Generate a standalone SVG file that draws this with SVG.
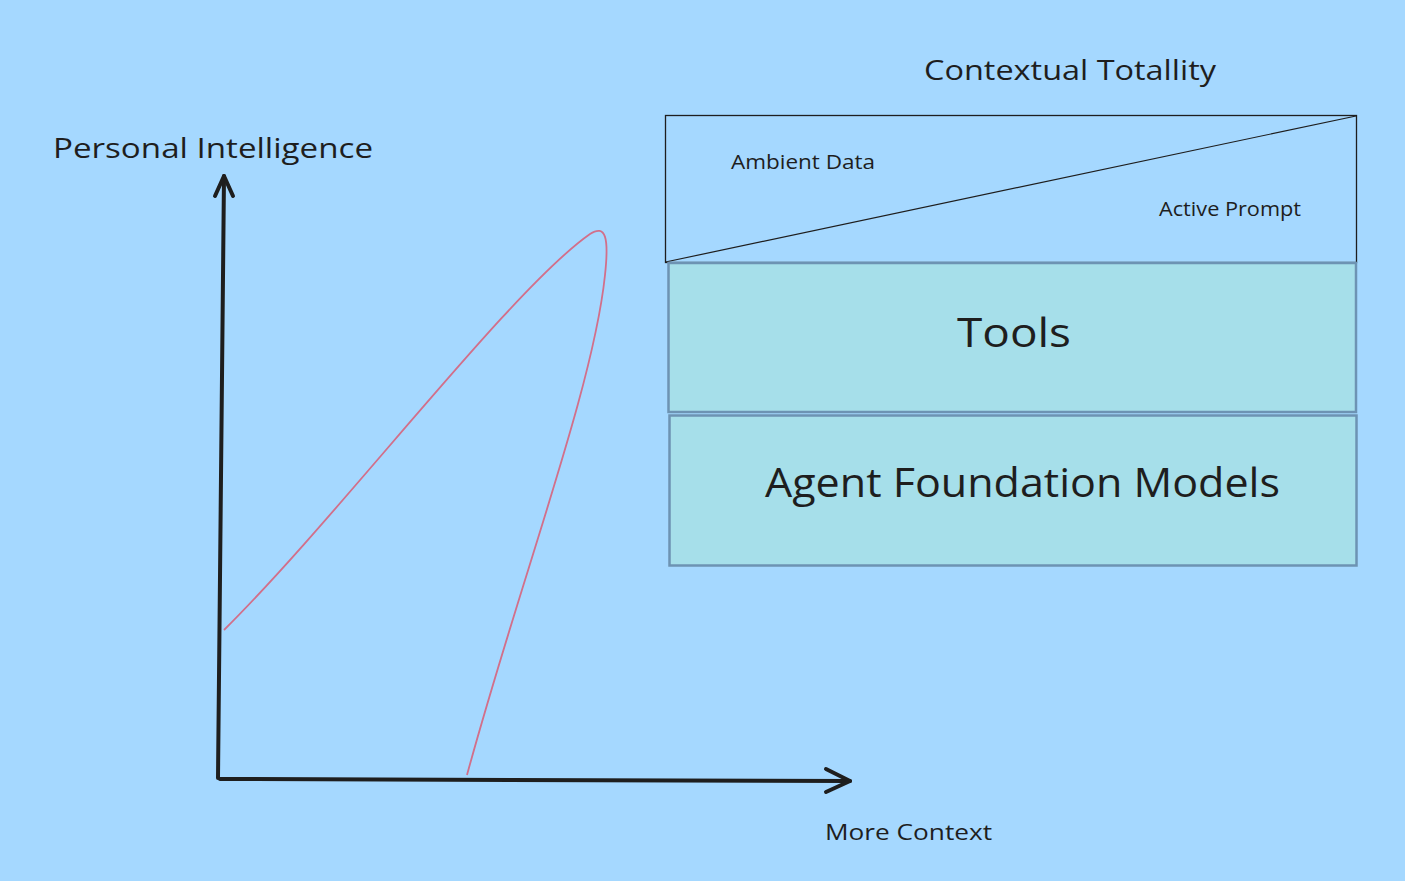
<svg xmlns="http://www.w3.org/2000/svg" width="1405" height="881" viewBox="0 0 1405 881">
<defs>
<style>
text{font-family:"Open Sans","Liberation Sans",sans-serif;fill:#1e1e1e}
.axis{stroke:#1e1e1e;stroke-width:4;fill:none;stroke-linecap:round;stroke-linejoin:round}
.layer{fill:#a6dfea;stroke:#6d93b3;stroke-width:2.5}
.curve{fill:none;stroke:#d26f8a;stroke-width:1.8}
</style>
</defs>
<rect x="0" y="0" width="1405" height="881" fill="#a5d8ff"/>
<g id="title"><text x="1070" y="80" font-size="28" text-anchor="middle" textLength="292" lengthAdjust="spacingAndGlyphs">Contextual Totallity</text></g>
<g id="context-box">
<rect x="665.5" y="115.5" width="691" height="147" fill="none" stroke="#1e1e1e" stroke-width="1.3"/>
<line x1="665.5" y1="262" x2="1356" y2="116" stroke="#1e1e1e" stroke-width="1.2"/>
<text x="731" y="169" font-size="20" textLength="144" lengthAdjust="spacingAndGlyphs">Ambient Data</text>
<text x="1159" y="216" font-size="20" textLength="142" lengthAdjust="spacingAndGlyphs">Active Prompt</text>
</g>
<g id="tools">
<rect class="layer" x="668.5" y="263" width="687.5" height="149"/>
<text x="1014" y="347" font-size="40" text-anchor="middle" textLength="114" lengthAdjust="spacingAndGlyphs">Tools</text>
</g>
<g id="agent-foundation-models">
<rect class="layer" x="669.5" y="415.5" width="687" height="150"/>
<text x="765" y="497" font-size="40" textLength="515" lengthAdjust="spacingAndGlyphs">Agent Foundation Models</text>
</g>
<g id="y-axis-label"><text x="53" y="158" font-size="28" textLength="320" lengthAdjust="spacingAndGlyphs">Personal Intelligence</text></g>
<g id="x-axis-label"><text x="825" y="840" font-size="22" textLength="167" lengthAdjust="spacingAndGlyphs">More Context</text></g>
<g id="connectors">
<path class="axis" d="M218,778 L224,176"/>
<path class="axis" d="M215,196 L224,176 L233,196"/>
<path class="axis" d="M220,779 L850,781"/>
<path class="axis" d="M826,769 L850,781 L826,792"/>
<path class="curve" d="M224,630 C 340,515 510,290 590,234 C 606,224 609,238 605,275 C 593,390 520,580 467,775"/>
</g>
</svg>
